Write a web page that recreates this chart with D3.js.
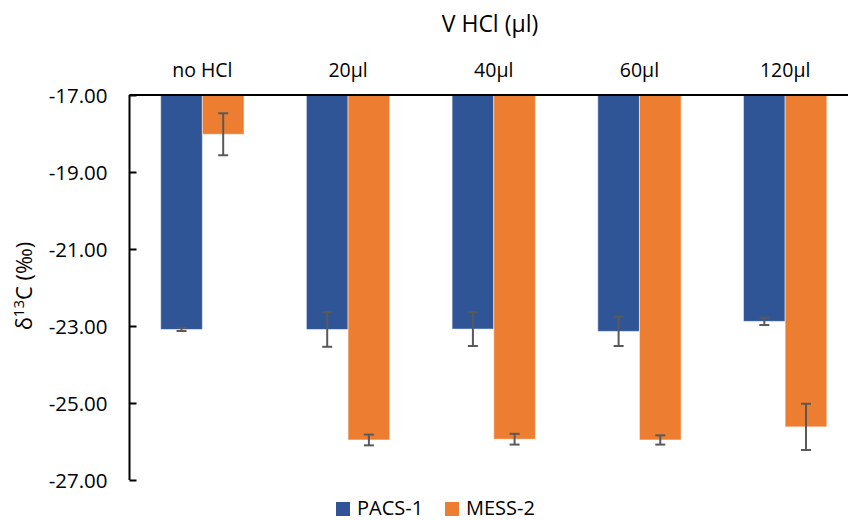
<!DOCTYPE html>
<html>
<head>
<meta charset="utf-8">
<script src="https://cdn.jsdelivr.net/npm/d3@7"></script>
<style>
  body { margin: 0; background: #fff; }
  svg text { font-family: "Open Sans", "Noto Sans", sans-serif; fill: #000; }
</style>
</head>
<body>
<div id="chart"></div>
<script>
// data
const categories = ["no HCl", "20\u00b5l", "40\u00b5l", "60\u00b5l", "120\u00b5l"];
const seriesNames = ["PACS-1", "MESS-2"];
const pacsValues = [-23.09, -23.09, -23.08, -23.14, -22.88];
const pacsErrors = [0.04, 0.45, 0.44, 0.38, 0.095];
const messValues = [-18.02, -25.96, -25.94, -25.96, -25.62];
const messErrors = [0.545, 0.14, 0.14, 0.12, 0.6];
const yTicks = [-17, -19, -21, -23, -25, -27];
const colors = ["#2F5597", "#ED7D31"];

const width = 848, height = 520;
const margin = {top: 95, left: 129.5, bottom: 40, right: -10};

const svg = d3.select("#chart").append("svg")
    .attr("width", width)
    .attr("height", height);

let data = [];
for (let i = 0; i < categories.length; i++) {
    data.push({cat: categories[i], s: 0, v: pacsValues[i], e: pacsErrors[i]});
    data.push({cat: categories[i], s: 1, v: messValues[i], e: messErrors[i]});
}

// scales
let x = d3.scaleBand()
    .domain(categories)
    .range([margin.left, width - margin.right])
    .paddingInner(0.428)
    .paddingOuter(0.214);

let xs = d3.scaleBand()
    .domain([0, 1])
    .range([0, x.bandwidth()]);

let y = d3.scaleLinear()
    .domain([-17, -27])
    .range([margin.top, height - margin.bottom]);

// bars hang from the top axis
svg.append("g")
    .selectAll("rect")
    .data(data)
    .enter()
    .append("rect")
    .attr("x", d => x(d.cat) + xs(d.s))
    .attr("y", y(-17))
    .attr("width", xs.bandwidth())
    .attr("height", d => y(d.v) - y(-17))
    .attr("fill", d => colors[d.s])
    .attr("stroke", "#ffffff")
    .attr("stroke-opacity", 0.5)
    .attr("stroke-width", 1);

// error bars
let err = svg.append("g")
    .attr("stroke", "#595959")
    .attr("stroke-width", 2)
    .selectAll("g")
    .data(data)
    .enter()
    .append("g")
    .attr("transform", d => `translate(${x(d.cat) + xs(d.s) + xs.bandwidth() / 2},0)`);

err.append("line")
    .attr("y1", d => y(d.v - d.e))
    .attr("y2", d => y(d.v + d.e));
err.append("line")
    .attr("x1", -5).attr("x2", 5)
    .attr("y1", d => y(d.v - d.e)).attr("y2", d => y(d.v - d.e));
err.append("line")
    .attr("x1", -5).attr("x2", 5)
    .attr("y1", d => y(d.v + d.e)).attr("y2", d => y(d.v + d.e));

// y axis, ticks pointing inward
let yAxis = d3.axisRight(y)
    .tickValues(yTicks)
    .tickSize(7)
    .tickFormat(d => d.toFixed(2));

let yg = svg.append("g")
    .attr("transform", `translate(${margin.left},0)`)
    .call(yAxis);
yg.select(".domain").remove();
yg.selectAll(".tick line").attr("stroke", "#000").attr("stroke-width", 2);
yg.selectAll(".tick text")
    .attr("x", -22)
    .attr("dy", "0.35em")
    .attr("text-anchor", "end")
    .style("font-size", "20.5px");
svg.append("line")
    .attr("x1", margin.left).attr("x2", margin.left)
    .attr("y1", y(-17)).attr("y2", y(-27))
    .attr("stroke", "#000").attr("stroke-width", 2);

// x axis along the top
let xAxis = d3.axisTop(x).tickSize(0).tickPadding(18);
let xg = svg.append("g")
    .attr("transform", `translate(0,${y(-17)})`)
    .call(xAxis);
xg.select(".domain").attr("stroke", "#000").attr("stroke-width", 2)
    .attr("d", `M${margin.left},0H${width}`);
xg.selectAll(".tick text").style("font-size", "19.5px");

// axis titles
svg.append("text")
    .attr("x", 490)
    .attr("y", 32)
    .attr("text-anchor", "middle")
    .style("font-size", "23px")
    .text("V HCl (\u00b5l)");

let yl = svg.append("text")
    .attr("transform", `translate(32,286) rotate(-90)`)
    .attr("text-anchor", "middle")
    .style("font-size", "22px");
yl.append("tspan").text("\u03b4");
yl.append("tspan").attr("dy", -8).style("font-size", "15px").text("13");
yl.append("tspan").attr("dy", 8).text("C (\u2030)");

// legend
let legend = svg.append("g")
    .selectAll("g")
    .data(seriesNames)
    .enter()
    .append("g")
    .attr("transform", (d, i) => `translate(${336 + i * 109},502)`);
legend.append("rect")
    .attr("width", 14).attr("height", 14)
    .attr("fill", (d, i) => colors[i]);
legend.append("text")
    .attr("x", 21)
    .attr("y", 12.5)
    .style("font-size", "20px")
    .text(d => d);
</script>
</body>
</html>
